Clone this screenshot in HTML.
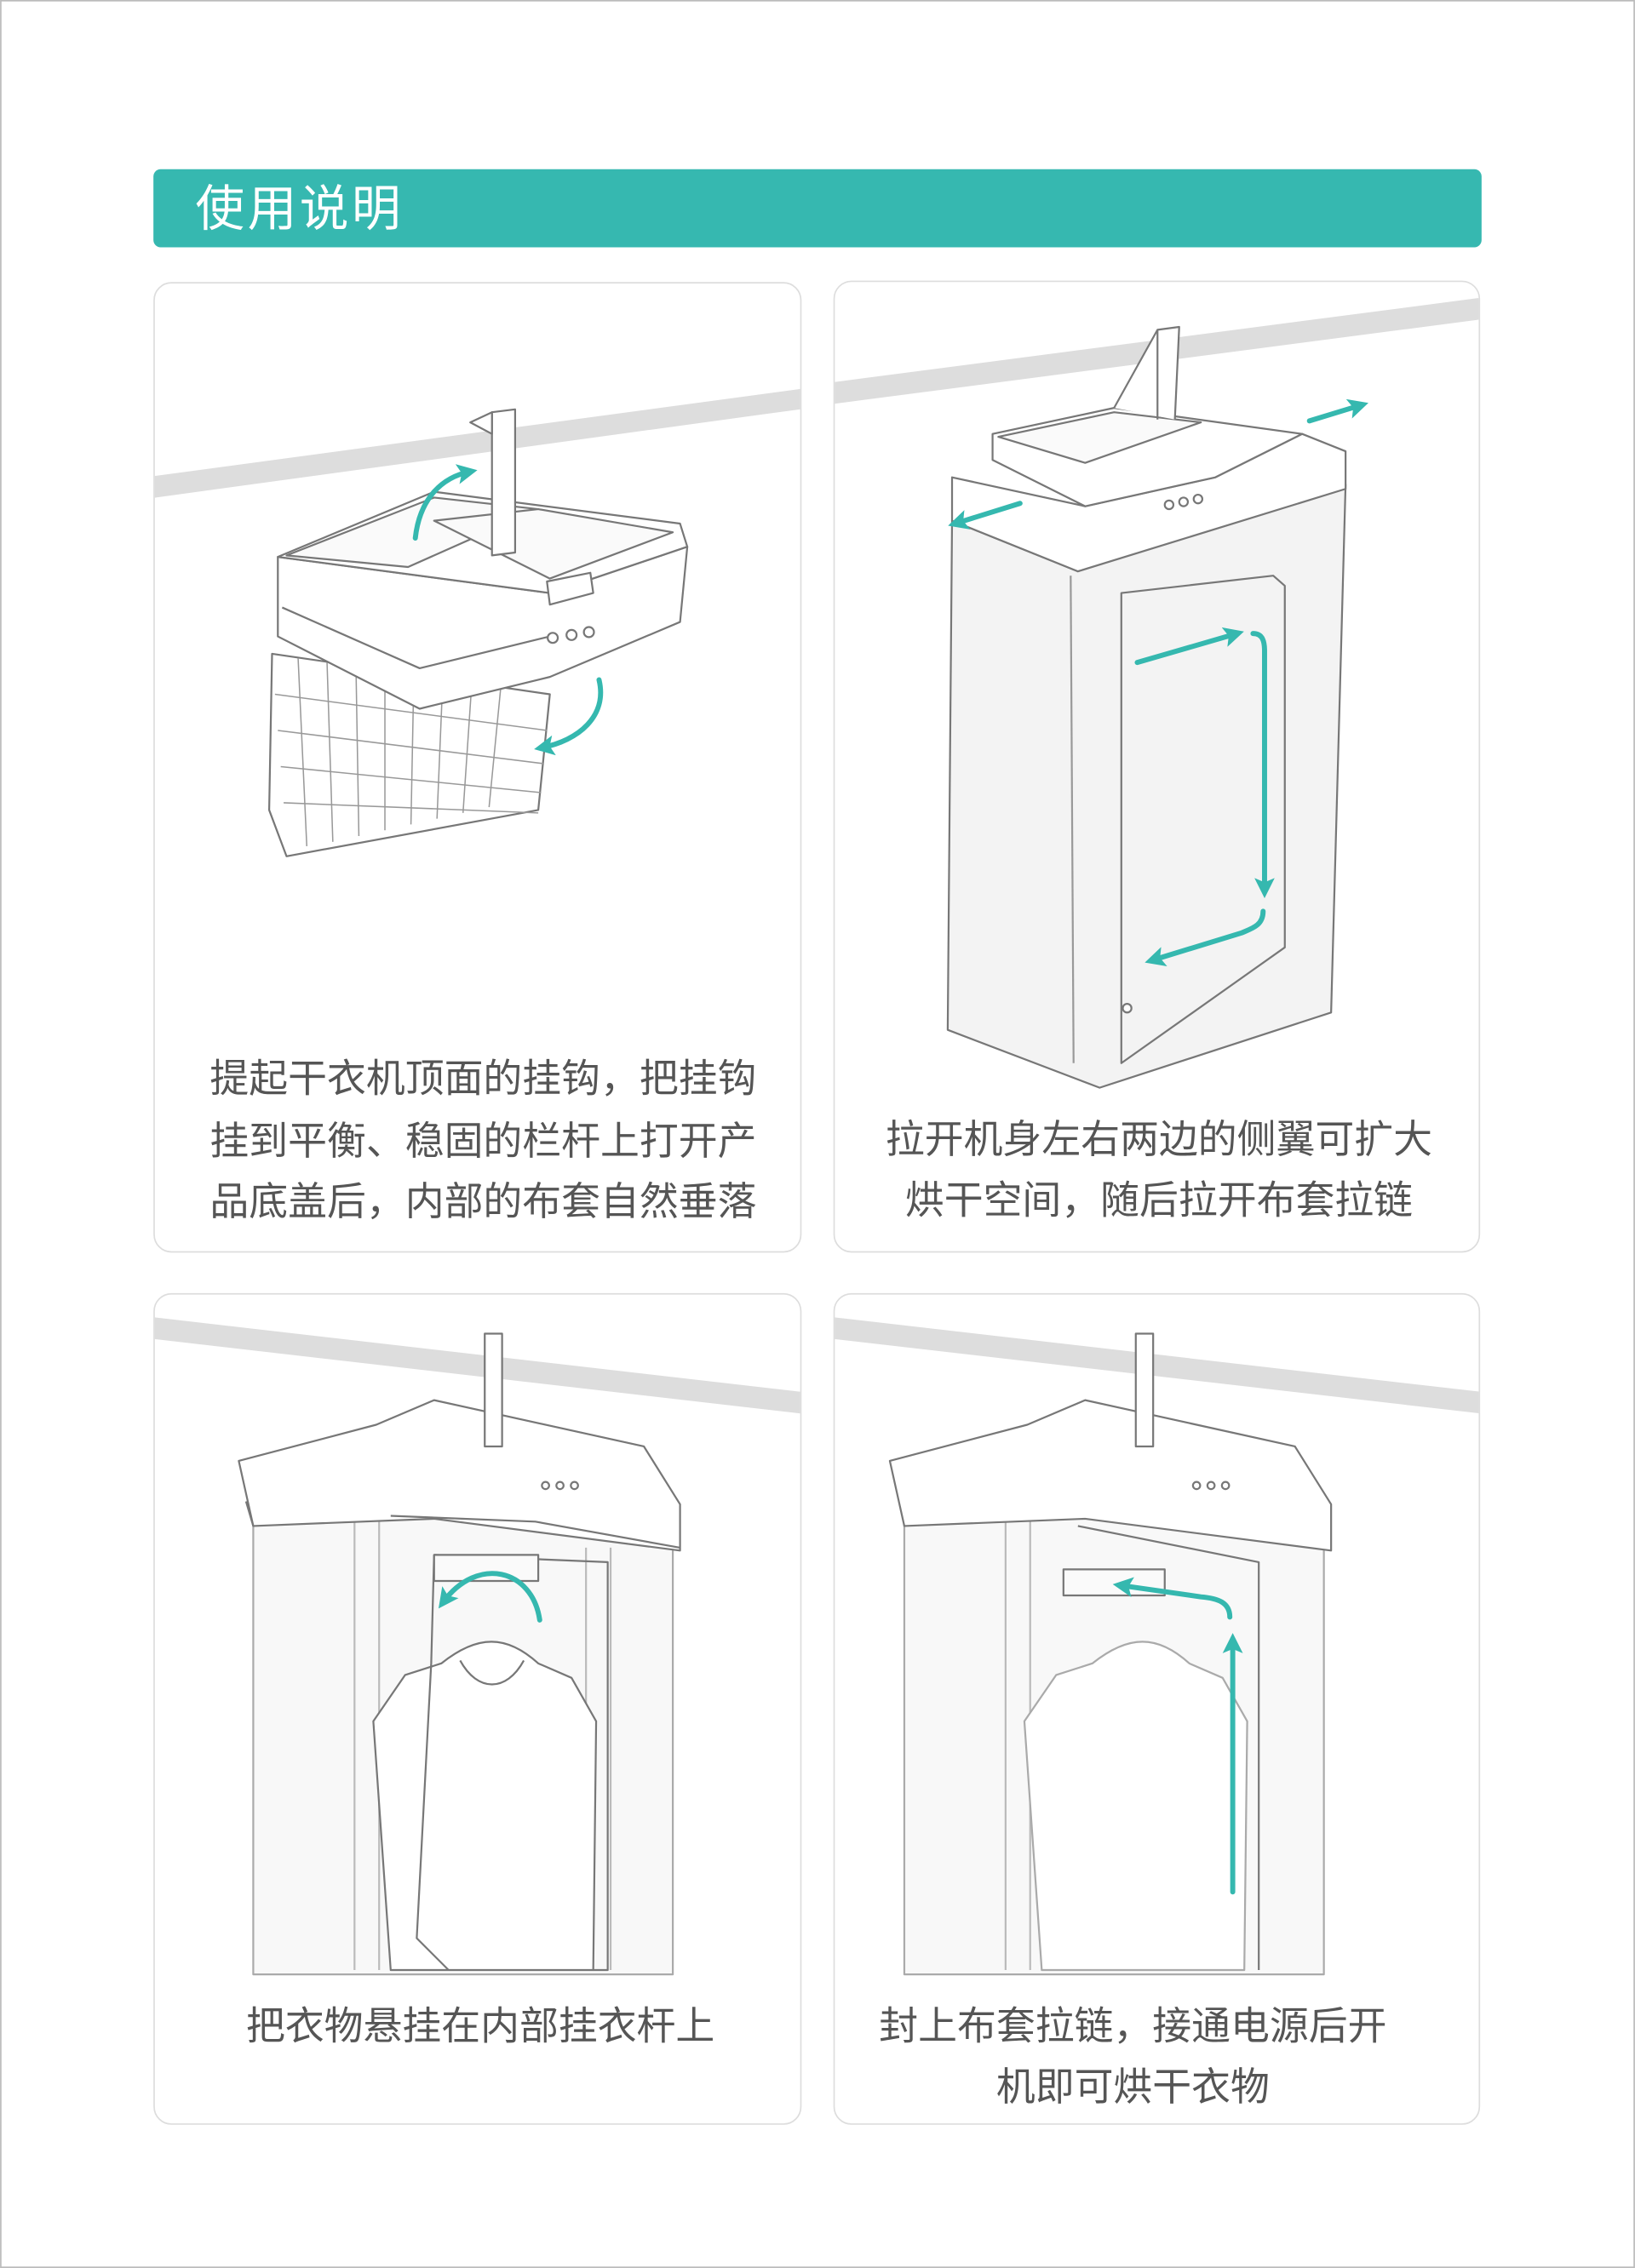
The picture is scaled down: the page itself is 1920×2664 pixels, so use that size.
<!DOCTYPE html>
<html><head><meta charset="utf-8">
<style>
html,body{margin:0;padding:0;background:#fff;}
svg{display:block;}
text{font-family:"Liberation Sans","Noto Sans CJK SC",sans-serif;}
</style></head><body>
<svg width="1920" height="2664" viewBox="0 0 1130 1568" xmlns="http://www.w3.org/2000/svg">
<defs>
<marker id="ah" markerWidth="14" markerHeight="14" refX="9" refY="7" orient="auto" markerUnits="userSpaceOnUse">
<path d="M0,0 L14,7 L0,14 L3,7 z" fill="#35b8af"/></marker>
<clipPath id="c1"><rect x="107" y="196" width="446" height="669" rx="12"/></clipPath>
<clipPath id="c2"><rect x="577" y="195" width="445" height="670" rx="12"/></clipPath>
<clipPath id="c3"><rect x="107" y="895" width="446" height="573" rx="12"/></clipPath>
<clipPath id="c4"><rect x="577" y="895" width="445" height="573" rx="12"/></clipPath>
</defs>
<rect x="0.5" y="0.5" width="1129" height="1567" fill="#fff" stroke="#bbb" stroke-width="1"/>
<rect x="106" y="117" width="918" height="54" rx="5" fill="#36b8b0"/>
<text x="135" y="156" font-size="34" fill="#fff" letter-spacing="2">使用说明</text>

<rect x="106.5" y="195.5" width="447" height="670" rx="12" fill="#fff" stroke="#ddd"/>
<rect x="576.5" y="194.5" width="446" height="671" rx="12" fill="#fff" stroke="#ddd"/>
<rect x="106.5" y="894.5" width="447" height="574" rx="12" fill="#fff" stroke="#ddd"/>
<rect x="576.5" y="894.5" width="446" height="574" rx="12" fill="#fff" stroke="#ddd"/>

<!-- Panel 1 -->
<g clip-path="url(#c1)" stroke="#777" stroke-width="1.3" fill="#fff" stroke-linejoin="round">
<path d="M100,330 L560,268 L560,282 L100,345 z" fill="#ddd" stroke="none"/>
<path d="M188,452 L380,480 L372,560 L198,592 L186,560 z" fill="#fff"/>
<g stroke="#999" stroke-width="0.9" fill="none">
<path d="M206,455 L212,585 M226,458 L230,582 M246,461 L248,578 M266,464 L266,574 M286,467 L284,570 M306,470 L302,566 M326,473 L320,562 M346,476 L338,558"/>
<path d="M190,480 L378,505 M192,505 L376,528 M194,530 L374,548 M196,555 L372,562"/>
</g>
<path d="M192,385 L192,440 L290,490 L380,468 L470,430 L475,378 L380,410 z"/>
<path d="M192,385 L300,340 L470,362 L475,378 L380,410 z"/>
<path d="M198,384 L300,344 L372,352 L282,392 z" fill="#fafafa"/>
<path d="M300,360 L372,352 L465,368 L380,400 z" fill="#fafafa"/>
<path d="M195,420 L290,462 L380,440" fill="none"/>
<path d="M378,402 L408,396 L410,410 L380,418 z"/>
<path d="M340,285 L356,283 L356,382 L340,384 z"/>
<path d="M325,292 L340,285 L340,300 z"/>
<circle cx="382" cy="441" r="3.5"/><circle cx="395" cy="439" r="3.5"/><circle cx="407" cy="437" r="3.5"/>
</g>
<g stroke="#35b8af" stroke-width="3.5" fill="none" stroke-linecap="round">
<path d="M287,372 C290,345 305,330 325,326" marker-end="url(#ah)"/>
<path d="M414,470 C420,495 400,512 374,517" marker-end="url(#ah)"/>
</g>
<g font-size="27" fill="#555">
<text x="145" y="755">提起干衣机顶面的挂钩，把挂钩</text>
<text x="145" y="798">挂到平衡、稳固的栏杆上打开产</text>
<text x="145" y="840">品底盖后，内部的布套自然垂落</text>
</g>

<!-- Panel 2 -->
<g clip-path="url(#c2)" stroke="#777" stroke-width="1.3" fill="#fff" stroke-linejoin="round">
<path d="M570,265 L1030,205 L1030,220 L570,280 z" fill="#ddd" stroke="none"/>
<path d="M658,360 L745,395 L930,335 L920,700 L760,752 L655,712 z" fill="#f3f3f3"/>
<path d="M775,410 L880,398 L888,405 L888,655 L775,735 z" fill="none"/>
<path d="M740,398 L742,735" fill="none" stroke="#999"/>
<path d="M658,330 L658,360 L745,395 L930,338 L930,312 L900,300 L840,330 L750,350 z"/>
<path d="M686,300 L770,282 L900,300 L840,330 L750,350 L686,318 z"/>
<path d="M690,302 L770,285 L830,292 L750,320 z" fill="#fafafa"/>
<path d="M770,282 L800,228 L815,226 L812,290" />
<path d="M800,228 L800,290"/>
<circle cx="808" cy="349" r="3"/><circle cx="818" cy="347" r="3"/><circle cx="828" cy="345" r="3"/>
<circle cx="779" cy="697" r="3"/>
</g>
<g stroke="#35b8af" stroke-width="3.5" fill="none" stroke-linecap="round">
<path d="M786,458 L855,438" marker-end="url(#ah)"/>
<path d="M866,438 C873,438 874,444 874,450 L874,616" marker-end="url(#ah)"/>
<path d="M873,630 C873,640 865,642 858,645 L796,664" marker-end="url(#ah)"/>
<path d="M705,348 L660,362" marker-end="url(#ah)"/>
<path d="M905,291 L941,280" marker-end="url(#ah)"/>
</g>
<g font-size="27" fill="#555" text-anchor="middle">
<text x="801" y="797">拉开机身左右两边的侧翼可扩大</text>
<text x="801" y="839">烘干空间，随后拉开布套拉链</text>
</g>

<!-- Panel 3 -->
<g clip-path="url(#c3)" stroke="#777" stroke-width="1.3" fill="#fff" stroke-linejoin="round">
<path d="M100,910 L560,963 L560,978 L100,925 z" fill="#ddd" stroke="none"/>
<rect x="175" y="1040" width="290" height="325" fill="#f8f8f8" stroke="#aaa"/>
<path d="M245,1040 L245,1362 M262,1040 L262,1362 M405,1070 L405,1362 M422,1070 L422,1362" stroke="#bbb" fill="none"/>
<path d="M305,1150 C330,1130 350,1130 372,1150 L395,1160 L412,1190 L410,1362 L270,1362 L258,1190 L280,1158 z" fill="#fff"/>
<path d="M318,1148 C330,1170 350,1170 362,1148" fill="none"/>
<path d="M300,1075 L420,1080 L420,1362 L410,1362" fill="none"/>
<path d="M300,1075 L298,1150 L288,1340 L310,1362" fill="none"/>
<path d="M165,1010 L260,985 L300,968 L445,1000 L470,1040 L470,1072 L300,1050 L175,1055 z"/>
<path d="M170,1038 L175,1055 M270,1048 L370,1052 L470,1070" fill="none"/>
<rect x="300" y="1075" width="72" height="18" fill="#fafafa"/>
<path d="M335,922 L347,922 L347,1000 L335,1000 z"/>
<circle cx="377" cy="1027" r="2.5"/><circle cx="387" cy="1027" r="2.5"/><circle cx="397" cy="1027" r="2.5"/>
</g>
<g stroke="#35b8af" stroke-width="3.5" fill="none" stroke-linecap="round">
<path d="M373,1120 C368,1085 330,1075 306,1108" marker-end="url(#ah)"/>
</g>
<text x="332" y="1410" font-size="27" fill="#555" text-anchor="middle">把衣物悬挂在内部挂衣杆上</text>

<!-- Panel 4 -->
<g clip-path="url(#c4)" stroke="#777" stroke-width="1.3" fill="#fff" stroke-linejoin="round">
<path d="M570,910 L1030,963 L1030,978 L570,925 z" fill="#ddd" stroke="none"/>
<rect x="625" y="1040" width="290" height="325" fill="#f8f8f8" stroke="#aaa"/>
<path d="M695,1040 L695,1362 M712,1040 L712,1362" stroke="#bbb" fill="none"/>
<path d="M755,1150 C780,1130 800,1130 822,1150 L845,1160 L862,1190 L860,1362 L720,1362 L708,1190 L730,1158 z" fill="#fff" stroke="#aaa"/>
<path d="M745,1055 L870,1080 L870,1362" fill="none"/>
<path d="M615,1010 L710,985 L750,968 L895,1000 L920,1040 L920,1072 L750,1050 L625,1055 z"/>
<rect x="735" y="1085" width="70" height="18" fill="#fafafa"/>
<path d="M785,922 L797,922 L797,1000 L785,1000 z"/>
<circle cx="827" cy="1027" r="2.5"/><circle cx="837" cy="1027" r="2.5"/><circle cx="847" cy="1027" r="2.5"/>
</g>
<g stroke="#35b8af" stroke-width="3.5" fill="none" stroke-linecap="round">
<path d="M852,1308 L852,1134" marker-end="url(#ah)"/>
<path d="M850,1118 C850,1108 842,1105 830,1104 L774,1096" marker-end="url(#ah)"/>
</g>
<g font-size="27" fill="#555" text-anchor="middle">
<text x="783" y="1410">封上布套拉链，接通电源后开</text>
<text x="783" y="1452">机即可烘干衣物</text>
</g>
</svg>
</body></html>
